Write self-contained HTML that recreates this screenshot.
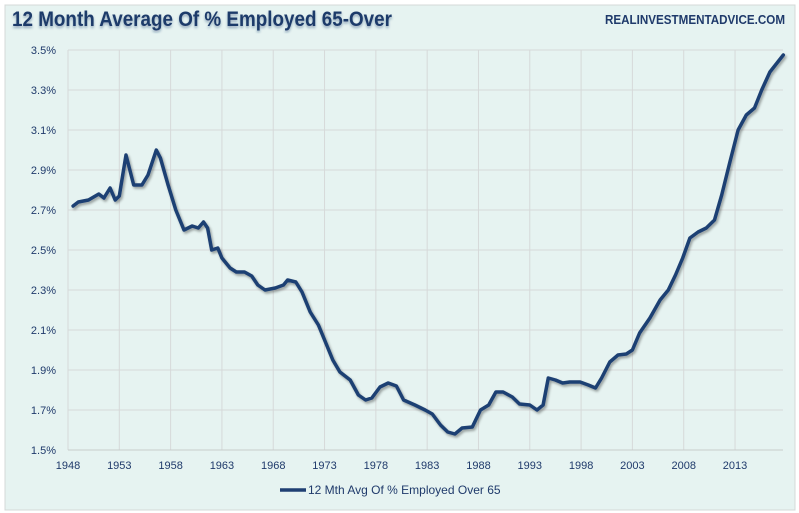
<!DOCTYPE html>
<html><head><meta charset="utf-8"><style>
body{margin:0;background:#fff;}
#wrap{position:relative;width:799px;height:513px;overflow:hidden;background:#fff;}
svg text{font-family:"Liberation Sans",sans-serif;}
</style></head><body>
<div id="wrap">
<svg id="chart" width="799" height="513" xmlns="http://www.w3.org/2000/svg">
<defs>
<filter id="sh" x="-5%" y="-5%" width="110%" height="110%"><feDropShadow dx="1.5" dy="2" stdDeviation="1.2" flood-color="#000" flood-opacity="0.35"/></filter>
<filter id="tsh"><feDropShadow dx="0" dy="2" stdDeviation="1.2" flood-color="#1f3a6b" flood-opacity="0.4"/></filter>
</defs>
<rect x="5" y="5" width="790" height="505" fill="#e6f3f1" stroke="#d4d8d8"/>
<text x="12" y="26" font-size="21" font-weight="bold" fill="#1f3a6b" filter="url(#tsh)" textLength="380" lengthAdjust="spacingAndGlyphs">12 Month Average Of % Employed  65-Over</text>
<text x="785" y="24" font-size="13" font-weight="bold" fill="#1f3a6b" text-anchor="end" textLength="180" lengthAdjust="spacingAndGlyphs">REALINVESTMENTADVICE.COM</text>
<g id="grid"></g><g id="axes"></g><g id="series"></g>
<line x1="280" y1="490" x2="306" y2="490" stroke="#1f3f73" stroke-width="3.5"/>
<text x="308" y="494" font-size="12" fill="#1f3a6b">12 Mth Avg Of % Employed Over 65</text>
</svg>
</div>
<script>
const yTicks=[1.5,1.7,1.9,2.1,2.3,2.5,2.7,2.9,3.1,3.3,3.5];
const xTicks=[1948,1953,1958,1963,1968,1973,1978,1983,1988,1993,1998,2003,2008,2013];
const years=[1948.5,1949,1950,1951,1951.5,1952.1,1952.6,1953,1953.65,1954.4,1955.2,1955.8,1956.6,1957,1957.75,1958.5,1959.3,1960.1,1960.7,1961.2,1961.6,1962,1962.6,1963,1963.8,1964.4,1965.2,1965.9,1966.5,1967.2,1968.2,1969,1969.4,1970.2,1970.8,1971.6,1972.4,1973,1973.8,1974.5,1975.5,1976.3,1977,1977.6,1978.4,1979.2,1980,1980.7,1981.8,1982.8,1983.5,1984.3,1985,1985.7,1986.4,1987.4,1988.2,1989,1989.7,1990.4,1991.3,1992,1993,1993.7,1994.3,1994.8,1995.5,1996.2,1996.9,1997.9,1998.7,1999.4,2000,2000.8,2001.6,2002.4,2003,2003.7,2004.7,2005.7,2006.5,2007.2,2007.9,2008.6,2009.4,2010.2,2011,2011.7,2012.5,2013.3,2014.1,2014.9,2015.6,2016.4,2017.7];
const values=[2.72,2.74,2.75,2.78,2.76,2.81,2.75,2.77,2.975,2.825,2.825,2.875,3.0,2.96,2.825,2.7,2.6,2.62,2.61,2.64,2.61,2.5,2.51,2.46,2.41,2.39,2.39,2.37,2.325,2.3,2.31,2.325,2.35,2.34,2.29,2.19,2.125,2.05,1.95,1.89,1.85,1.775,1.75,1.76,1.815,1.835,1.82,1.75,1.725,1.7,1.68,1.625,1.59,1.58,1.61,1.615,1.7,1.725,1.79,1.79,1.765,1.73,1.725,1.7,1.725,1.86,1.85,1.835,1.84,1.84,1.825,1.81,1.86,1.94,1.975,1.98,2.0,2.085,2.16,2.25,2.3,2.375,2.46,2.56,2.59,2.61,2.65,2.775,2.94,3.1,3.175,3.21,3.3,3.39,3.475];
const NS="http://www.w3.org/2000/svg";
const L=68,R=783,T=50,B=450;
function xs(y){return L+(y-1948)*10.262;}
function ys(v){return B-(v-1.5)*200;}
const grid=document.getElementById('grid'),axes=document.getElementById('axes'),ser=document.getElementById('series');
function mk(tag,attrs,parent){const e=document.createElementNS(NS,tag);for(const k in attrs)e.setAttribute(k,attrs[k]);parent.appendChild(e);return e;}
yTicks.forEach(v=>{
  const ln=mk('line',{x1:L,x2:R,y1:ys(v),y2:ys(v),stroke:'#d6d9d9','stroke-width':1},grid);
  
  
  const t=mk('text',{x:L-12,y:ys(v)+4,'font-size':11,fill:'#1f3a6b','text-anchor':'end'},axes);
  t.textContent=v.toFixed(1)+'%';
  
  
});
xTicks.forEach(y=>{
  const ln=mk('line',{x1:xs(y),x2:xs(y),y1:T,y2:B,stroke:'#d6d9d9','stroke-width':1},grid);
  
  
  const t=mk('text',{x:xs(y),y:B+19,'font-size':11,fill:'#1f3a6b','text-anchor':'middle'},axes);
  t.textContent=y;
  
  
});
const ax=mk('line',{x1:L,x2:R,y1:B,y2:B,stroke:'#c8cccc','stroke-width':1},axes);


let d='';
years.forEach((y,i)=>{d+=(i?'L':'M')+xs(y).toFixed(1)+','+ys(values[i]).toFixed(1);});
const p=mk('path',{d:d,fill:'none',stroke:'#1f3f73','stroke-width':3.5,'stroke-linejoin':'round','stroke-linecap':'round',filter:'url(#sh)'},ser);


</script>
</body></html>
